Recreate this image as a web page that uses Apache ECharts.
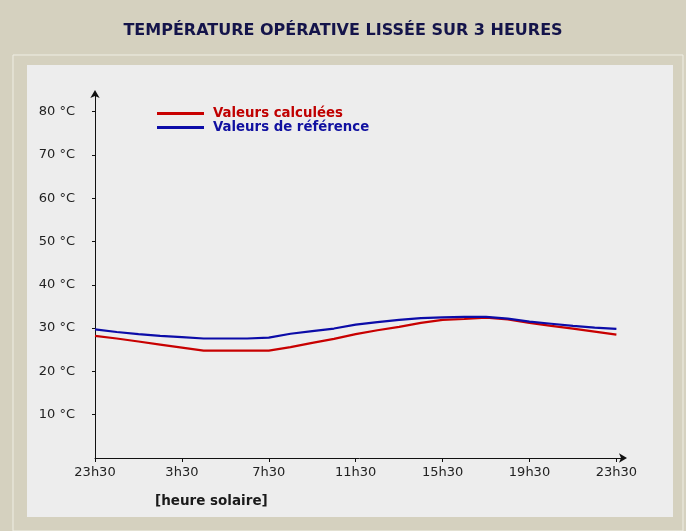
<!DOCTYPE html>
<html>
<head>
<meta charset="utf-8">
<script src="https://cdn.jsdelivr.net/npm/echarts@6/dist/echarts.min.js"></script>
<style>
  html, body { margin: 0; padding: 0; background: #d5d1bf; }
  #main { width: 686px; height: 531px; }
</style>
</head>
<body>
<div id="main"></div>
<script>
// hours after 23h30 (0..24), one point per hour
var hours = [0, 1, 2, 3, 4, 5, 6, 7, 8, 9, 10, 11, 12, 13, 14, 15, 16, 17, 18, 19, 20, 21, 22, 23, 24];
var calcValues = [28.2, 27.6, 26.9, 26.2, 25.5, 24.8, 24.8, 24.8, 24.8, 25.6, 26.6, 27.5, 28.6,
                  29.5, 30.3, 31.2, 31.9, 32.1, 32.4, 32.0, 31.2, 30.5, 29.9, 29.2, 28.5];
var refValues = [29.7, 29.1, 28.6, 28.2, 27.9, 27.6, 27.6, 27.6, 27.8, 28.7, 29.3, 29.9, 30.8,
                 31.4, 31.9, 32.3, 32.5, 32.6, 32.6, 32.2, 31.5, 31.0, 30.5, 30.1, 29.8];
var xTickValues = [0, 4, 8, 12, 16, 20, 24];
var xTickLabels = ['23h30', '3h30', '7h30', '11h30', '15h30', '19h30', '23h30'];
var yTickValues = [10, 20, 30, 40, 50, 60, 70, 80];

var chart = echarts.init(document.getElementById('main'));

function pairs(vals) {
    return hours.map(function (h, i) { return [h, vals[i]]; });
}

var option = {
    animation: false,
    backgroundColor: '#d5d1bf',
    title: {
        text: 'TEMPÉRATURE OPÉRATIVE LISSÉE SUR 3 HEURES',
        left: 'center',
        top: 18,
        textStyle: {
            fontFamily: 'DejaVu Sans',
            fontWeight: 'bold',
            fontSize: 16,
            color: '#14144a'
        }
    },
    graphic: [
        {
            type: 'rect', z: -10, silent: true,
            shape: { x: 13, y: 55, width: 670, height: 476 },
            style: { fill: '#d5d1bf', stroke: '#efeee4', lineWidth: 1 }
        },
        {
            type: 'rect', z: -9, silent: true,
            shape: { x: 27, y: 65, width: 646, height: 452 },
            style: { fill: '#ededed' }
        },
        {
            type: 'text', left: 155, top: 494,
            style: {
                text: '[heure solaire]',
                font: 'bold 13.5px "DejaVu Sans"',
                fill: '#1a1a1a'
            }
        }
    ],
    legend: {
        orient: 'vertical',
        left: 152,
        top: 102,
        itemWidth: 47,
        itemHeight: 3,
        itemGap: 1,
        icon: 'rect',
        textStyle: {
            fontFamily: 'DejaVu Sans',
            fontWeight: 'bold',
            fontSize: 13.3,
            padding: [0, 0, 0, 4]
        },
        data: [
            { name: 'Valeurs calculées', textStyle: { color: '#c00000' } },
            { name: 'Valeurs de référence', textStyle: { color: '#1010a0' } }
        ]
    },
    grid: { left: 95, right: 62, top: 93, bottom: 73 },
    xAxis: {
        type: 'value',
        min: 0,
        max: 24.35,
        splitLine: { show: false },
        axisLine: {
            lineStyle: { color: '#111', width: 1 },
            symbol: ['none', 'arrow'],
            symbolSize: [7, 8],
            symbolOffset: [0, 3]
        },
        axisTick: { customValues: xTickValues, length: 4, lineStyle: { color: '#111' } },
        axisLabel: {
            customValues: xTickValues,
            formatter: function (v) { return xTickLabels[xTickValues.indexOf(v)]; },
            fontFamily: 'DejaVu Sans',
            fontSize: 13,
            color: '#222',
            margin: 8
        }
    },
    yAxis: {
        type: 'value',
        min: 0,
        max: 84.3,
        splitLine: { show: false },
        axisLine: {
            lineStyle: { color: '#111', width: 1 },
            symbol: ['none', 'arrow'],
            symbolSize: [7, 8],
            symbolOffset: [0, 3]
        },
        axisTick: { customValues: yTickValues, length: 3, lineStyle: { color: '#111' } },
        axisLabel: {
            customValues: yTickValues,
            formatter: function (v) { return v + ' °C'; },
            fontFamily: 'DejaVu Sans',
            fontSize: 13,
            color: '#222',
            margin: 20
        }
    },
    series: [
        {
            name: 'Valeurs calculées',
            type: 'line',
            data: pairs(calcValues),
            showSymbol: false,
            color: '#c80000',
            lineStyle: { width: 2.2 }
        },
        {
            name: 'Valeurs de référence',
            type: 'line',
            data: pairs(refValues),
            showSymbol: false,
            color: '#0c0ca8',
            lineStyle: { width: 2.2 }
        }
    ]
};

option && chart.setOption(option);
</script>
</body>
</html>
